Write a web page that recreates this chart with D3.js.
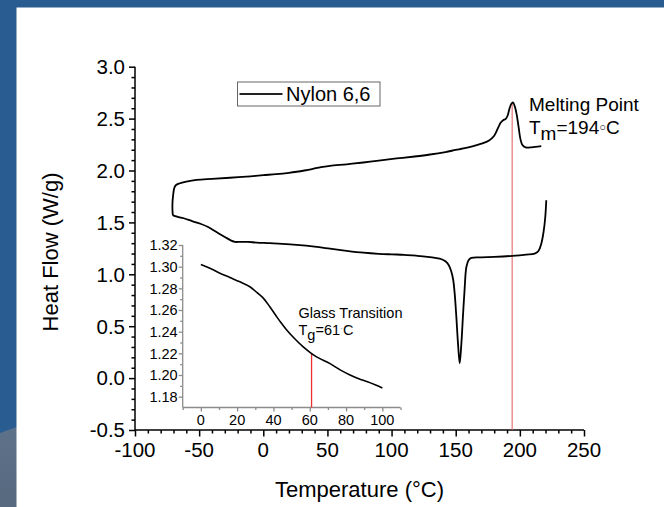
<!DOCTYPE html>
<html>
<head>
<meta charset="utf-8">
<script src="https://cdn.jsdelivr.net/npm/d3@7"></script>
<style>
  html, body { margin: 0; padding: 0; background: #ffffff; }
  svg { display: block; font-family: "Liberation Sans", Arial, sans-serif; }
</style>
</head>
<body>
<svg id="chart" width="664" height="507"></svg>
<script>
// DSC trace of Nylon 6,6: upper (heating) branch, ascending temperature
const upperT  = [-70.7, -70.8, -70.3, -69.3, -68.0, -65.5, -60, -52, -40, -26, -10, 0, 10, 20, 26, 32, 38, 45, 52, 65, 78, 90, 104, 118, 130, 142, 150, 156, 163, 170, 176, 180, 183, 185, 187, 189, 190.5, 192, 193.5, 194.6, 196, 197.5, 199, 200.5, 202, 204.5, 208, 212, 216.7];
const upperHF = [1.60, 1.68, 1.76, 1.835, 1.86, 1.875, 1.893, 1.91, 1.92, 1.93, 1.944, 1.955, 1.965, 1.978, 1.988, 2.0, 2.014, 2.033, 2.045, 2.06, 2.077, 2.095, 2.116, 2.135, 2.154, 2.178, 2.198, 2.212, 2.232, 2.258, 2.29, 2.335, 2.41, 2.46, 2.485, 2.497, 2.53, 2.6, 2.645, 2.656, 2.62, 2.54, 2.42, 2.3, 2.245, 2.222, 2.222, 2.228, 2.234];

// lower (cooling/return) branch, ascending temperature
const lowerT  = [-70.3, -62, -55, -49, -43, -36.5, -30, -25, -22, -18, -12, -5, 5, 15, 26, 40, 52, 65, 78, 90, 100, 110, 120, 128, 134, 139, 142, 144.5, 146.5, 148, 149.3, 150.5, 151.8, 153.1, 154.4, 155.6, 156.9, 158.3, 160, 162.2, 170, 180, 194, 205, 211.5, 214.5, 216.7, 218.5, 219.8, 220.6];
const lowerHF = [1.57, 1.54, 1.51, 1.487, 1.455, 1.407, 1.36, 1.325, 1.312, 1.313, 1.312, 1.306, 1.3, 1.293, 1.283, 1.266, 1.247, 1.226, 1.208, 1.197, 1.192, 1.188, 1.178, 1.168, 1.158, 1.145, 1.125, 1.09, 1.03, 0.95, 0.8, 0.587, 0.33, 0.143, 0.33, 0.587, 0.85, 1.07, 1.135, 1.158, 1.163, 1.168, 1.178, 1.19, 1.2, 1.225, 1.295, 1.41, 1.55, 1.713];

// inset: glass transition region
const insetT  = [0, 5, 10.5, 16, 21.5, 27, 31, 34.4, 38, 41.7, 44.5, 47.3, 52, 56.4, 62.9, 71.2, 77, 82.2, 87, 91.4, 96, 100];
const insetHF = [1.302, 1.2985, 1.294, 1.29, 1.286, 1.2815, 1.276, 1.271, 1.263, 1.254, 1.2475, 1.2416, 1.233, 1.226, 1.2176, 1.2105, 1.2045, 1.2, 1.1965, 1.194, 1.191, 1.188];

// tick values
const mainXTicks = [-100, -50, 0, 50, 100, 150, 200, 250];
const mainYTicks = [-0.5, 0.0, 0.5, 1.0, 1.5, 2.0, 2.5, 3.0];
const insetXTicks = [0, 20, 40, 60, 80, 100];
const insetYTicks = [1.18, 1.20, 1.22, 1.24, 1.26, 1.28, 1.30, 1.32];

const seriesName = "Nylon 6,6";
const Tm = 194;
const Tg = 61;

const svg = d3.select("#chart");

// slide background frame
svg.append("rect").attr("x", 0).attr("y", 0).attr("width", 664).attr("height", 507).attr("fill", "#295d91");
const grad = svg.append("defs").append("linearGradient").attr("id", "fade")
  .attr("x1", 0).attr("y1", 0).attr("x2", 0).attr("y2", 1);
grad.append("stop").attr("offset", "0%").attr("stop-color", "#5d7189");
grad.append("stop").attr("offset", "100%").attr("stop-color", "#56697f");
svg.append("path").attr("d", "M0,433 Q8,430 17,427 L17,507 L0,507 Z").attr("fill", "url(#fade)");
svg.append("rect").attr("x", 16.5).attr("y", 7.5).attr("width", 664 - 16.5).attr("height", 507 - 7.5).attr("fill", "#ffffff");

// main scales
const x = d3.scaleLinear().domain([-100, 250]).range([135, 584]);
const y = d3.scaleLinear().domain([-0.5, 3.0]).range([430, 66.7]);

const gx = svg.append("g").attr("transform", `translate(0,${y(-0.5)})`);
gx.call(d3.axisBottom(x).tickValues(d3.range(-100, 251, 10)).tickSize(3.5).tickFormat(""));
gx.call(g => g.selectAll(".tick").filter(d => d % 50 === 0).select("line").attr("y2", 6.5));
gx.select(".domain").attr("d", `M${x(-100)},0H${x(250)}`);
gx.selectAll("line, path").attr("stroke", "#000").attr("stroke-width", 1.5);
gx.selectAll(".ticklabel").data(mainXTicks).enter().append("text")
  .attr("x", d => x(d)).attr("y", 27).attr("text-anchor", "middle")
  .attr("font-size", 20.5).attr("fill", "#000").text(d => d);

const gy = svg.append("g").attr("transform", `translate(${x(-100)},0)`);
gy.call(d3.axisLeft(y).tickValues(d3.range(-5, 31, 1).map(v => v / 10)).tickSize(3.5).tickFormat(""));
gy.call(g => g.selectAll(".tick").filter(d => Math.abs(d * 2 - Math.round(d * 2)) < 1e-6).select("line").attr("x2", -6));
gy.select(".domain").attr("d", `M0,${y(-0.5)}V${y(3.0)}`);
gy.selectAll("line, path").attr("stroke", "#000").attr("stroke-width", 1.5);
gy.selectAll(".ticklabel").data(mainYTicks).enter().append("text")
  .attr("x", -10).attr("y", d => y(d)).attr("dy", "0.36em").attr("text-anchor", "end")
  .attr("font-size", 20.5).attr("fill", "#000").text(d => d3.format(".1f")(d).replace("−", "-"));

// axis titles
svg.append("text").attr("x", (x(-100) + x(250)) / 2).attr("y", 497).attr("text-anchor", "middle")
  .attr("font-size", 22).attr("fill", "#000").text("Temperature (°C)");
svg.append("text").attr("transform", "translate(58,252) rotate(-90)").attr("text-anchor", "middle")
  .attr("font-size", 22).attr("fill", "#000").text("Heat Flow (W/g)");

// melting point marker
const peakHF = d3.max(upperHF);
svg.append("line").attr("x1", x(Tm)).attr("x2", x(Tm)).attr("y1", y(peakHF)).attr("y2", y(-0.5))
  .attr("stroke", "#e36a6a").attr("stroke-width", 1.1);

// main DSC loop
const loop = upperT.map((t, i) => [t, upperHF[i]]).reverse()
  .concat(lowerT.map((t, i) => [t, lowerHF[i]]));
const line = d3.line().x(d => x(d[0])).y(d => y(d[1])).curve(d3.curveCatmullRom.alpha(0.5));
svg.append("path").datum(loop).attr("d", line).attr("fill", "none")
  .attr("stroke", "#000").attr("stroke-width", 1.8).attr("stroke-linejoin", "round");

// legend
const lg = svg.append("g");
lg.append("rect").attr("x", 237.5).attr("y", 82).attr("width", 142.5).attr("height", 24)
  .attr("fill", "#fff").attr("stroke", "#666").attr("stroke-width", 1);
lg.append("line").attr("x1", 239.5).attr("x2", 282.5).attr("y1", 94).attr("y2", 94)
  .attr("stroke", "#222").attr("stroke-width", 2);
lg.append("text").attr("x", 286).attr("y", 101).attr("font-size", 20).attr("fill", "#000").text(seriesName);

// melting annotation
svg.append("text").attr("x", 529).attr("y", 111).attr("font-size", 19).attr("fill", "#000").text("Melting Point");
const tm = svg.append("text").attr("x", 529).attr("y", 134).attr("font-size", 19).attr("fill", "#000");
tm.append("tspan").text("T");
tm.append("tspan").attr("dy", 6).text("m");
tm.append("tspan").attr("dy", -6).text("=" + Tm);
tm.append("tspan").attr("font-size", 11).attr("dy", -3).text("○");
tm.append("tspan").attr("dy", 3).text("C");

// inset scales
const ix = d3.scaleLinear().domain([-10, 110]).range([182.7, 400.5]);
const iy = d3.scaleLinear().domain([1.17, 1.32]).range([407.5, 245]);

const igx = svg.append("g").attr("transform", `translate(0,${iy(1.17)})`);
igx.call(d3.axisBottom(ix).tickValues(d3.range(-10, 111, 10)).tickSize(2.5).tickFormat(""));
igx.call(g => g.selectAll(".tick").filter(d => d % 20 === 0).select("line").attr("y2", 4));
igx.select(".domain").attr("d", `M${ix(-10)},0H${ix(110)}`);
igx.selectAll("line, path").attr("stroke", "#8c8c8c").attr("stroke-width", 1.3);
igx.selectAll(".ticklabel").data(insetXTicks).enter().append("text")
  .attr("x", d => ix(d)).attr("y", 17).attr("text-anchor", "middle")
  .attr("font-size", 14.5).attr("fill", "#000").text(d => d);

const igy = svg.append("g").attr("transform", `translate(${ix(-10)},0)`);
igy.call(d3.axisLeft(iy).tickValues(d3.range(118, 133, 1).map(v => v / 100)).tickSize(2.5).tickFormat(""));
igy.call(g => g.selectAll(".tick").filter(d => Math.round(d * 100) % 2 === 0).select("line").attr("x2", -4));
igy.select(".domain").attr("d", `M0,${iy(1.17)}V${iy(1.32)}`);
igy.selectAll("line, path").attr("stroke", "#8c8c8c").attr("stroke-width", 1.3);
igy.selectAll(".ticklabel").data(insetYTicks).enter().append("text")
  .attr("x", -5).attr("y", d => iy(d)).attr("dy", "0.36em").attr("text-anchor", "end")
  .attr("font-size", 14.5).attr("fill", "#000").text(d => d3.format(".2f")(d));

// glass transition marker
const tgHF = d3.scaleLinear().domain(insetT).range(insetHF)(Tg);
svg.append("line").attr("x1", ix(Tg)).attr("x2", ix(Tg)).attr("y1", iy(tgHF)).attr("y2", iy(1.17))
  .attr("stroke", "#ee2e2e").attr("stroke-width", 1.3);

const iline = d3.line().x(d => ix(d[0])).y(d => iy(d[1])).curve(d3.curveCatmullRom.alpha(0.5));
svg.append("path").datum(insetT.map((t, i) => [t, insetHF[i]])).attr("d", iline)
  .attr("fill", "none").attr("stroke", "#000").attr("stroke-width", 1.6);

svg.append("text").attr("x", 298.5).attr("y", 317.5).attr("font-size", 14.5).attr("fill", "#000").text("Glass Transition");
const tg = svg.append("text").attr("x", 298.5).attr("y", 335).attr("font-size", 14.5).attr("fill", "#000");
tg.append("tspan").text("T");
tg.append("tspan").attr("dy", 5).text("g");
tg.append("tspan").attr("dy", -5).text("=" + Tg);
tg.append("tspan").attr("fill", "#999").attr("font-size", 9).attr("dy", -4).text("·");
tg.append("tspan").attr("dy", 4).text("C");
</script>
</body>
</html>
